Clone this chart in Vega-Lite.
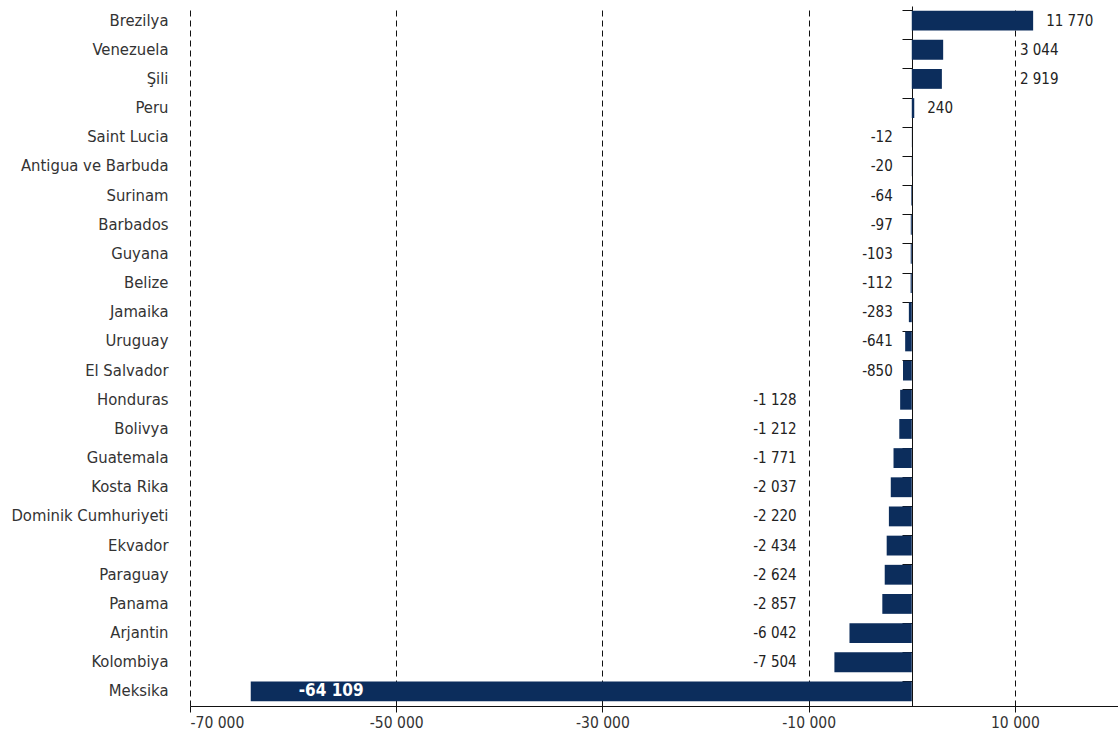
{
  "$schema": "https://vega.github.io/schema/vega-lite/v6.json",
  "autosize": "none",
  "width": 928,
  "height": 700,
  "padding": {"left": 190, "top": 6, "right": 0, "bottom": 39},
  "background": "white",
  "config": {
    "locale": {"number": {"decimal": ",", "thousands": " ", "grouping": [3], "currency": ["", ""], "minus": "-"}},
    "view": {"stroke": null},
    "font": "DejaVu Sans Condensed, Liberation Sans, sans-serif"
  },
  "data": {"values": [
    {"country": "Brezilya", "v": 11770},
    {"country": "Venezuela", "v": 3044},
    {"country": "Şili", "v": 2919},
    {"country": "Peru", "v": 240},
    {"country": "Saint Lucia", "v": -12},
    {"country": "Antigua ve Barbuda", "v": -20},
    {"country": "Surinam", "v": -64},
    {"country": "Barbados", "v": -97},
    {"country": "Guyana", "v": -103},
    {"country": "Belize", "v": -112},
    {"country": "Jamaika", "v": -283},
    {"country": "Uruguay", "v": -641},
    {"country": "El Salvador", "v": -850},
    {"country": "Honduras", "v": -1128},
    {"country": "Bolivya", "v": -1212},
    {"country": "Guatemala", "v": -1771},
    {"country": "Kosta Rika", "v": -2037},
    {"country": "Dominik Cumhuriyeti", "v": -2220},
    {"country": "Ekvador", "v": -2434},
    {"country": "Paraguay", "v": -2624},
    {"country": "Panama", "v": -2857},
    {"country": "Arjantin", "v": -6042},
    {"country": "Kolombiya", "v": -7504},
    {"country": "Meksika", "v": -64109}
  ]},
  "resolve": {"axis": {"y": "independent"}},
  "layer": [
    {
      "mark": {"type": "bar", "color": "#0c2d5c"},
      "encoding": {
        "y": {"field": "country", "type": "nominal", "sort": null,
          "scale": {"paddingInner": 0.32, "paddingOuter": 0.16},
          "axis": {"title": null, "orient": "left", "domain": false, "ticks": false, "labelPadding": 22,
            "labelFontSize": 16.5, "labelColor": "#333333", "labelLimit": 300}},
        "x": {"field": "v", "type": "quantitative",
          "scale": {"domain": [-70000, 20000], "nice": false, "zero": false},
          "axis": {"title": null, "values": [-70000, -50000, -30000, -10000, 10000], "format": ",d",
            "grid": true, "gridDash": [6, 4], "gridColor": "#111111", "gridWidth": 1, "gridOpacity": 1,
            "domainColor": "#111111", "tickColor": "#111111", "tickSize": 6,
            "labelFontSize": 15.5, "labelColor": "#333333", "labelPadding": 3}}
      }
    },
    {
      "mark": {"type": "bar", "opacity": 0},
      "encoding": {
        "y": {"field": "country", "type": "nominal", "sort": null,
          "axis": {"title": null, "orient": "left", "offset": -722, "labels": false, "domain": true,
            "domainColor": "#111111", "ticks": true, "tickColor": "#111111", "tickSize": 10, "bandPosition": 0}},
        "x": {"datum": 0, "type": "quantitative"}
      }
    },
    {
      "transform": [{"filter": "datum.v >= 5000 || (datum.v > 0 && datum.v < 1000)"}],
      "mark": {"type": "text", "align": "left", "dx": 13, "fontSize": 15, "color": "#222222"},
      "encoding": {
        "y": {"field": "country", "type": "nominal", "sort": null, "axis": null},
        "x": {"field": "v", "type": "quantitative"},
        "text": {"field": "v", "type": "quantitative", "format": ",d"}
      }
    },
    {
      "transform": [{"filter": "datum.v >= 1000 && datum.v < 5000"}],
      "mark": {"type": "text", "align": "left", "dx": 5, "fontSize": 15, "color": "#222222"},
      "encoding": {
        "y": {"field": "country", "type": "nominal", "sort": null, "axis": null},
        "x": {"datum": 10000, "type": "quantitative"},
        "text": {"field": "v", "type": "quantitative", "format": ",d"}
      }
    },
    {
      "transform": [{"filter": "datum.v < 0 && datum.v > -1000"}],
      "mark": {"type": "text", "align": "right", "dx": -19, "fontSize": 15, "color": "#222222"},
      "encoding": {
        "y": {"field": "country", "type": "nominal", "sort": null, "axis": null},
        "x": {"datum": 0, "type": "quantitative"},
        "text": {"field": "v", "type": "quantitative", "format": ",d"}
      }
    },
    {
      "transform": [{"filter": "datum.v <= -1000 && datum.v > -10000"}],
      "mark": {"type": "text", "align": "right", "dx": -12, "fontSize": 15, "color": "#222222"},
      "encoding": {
        "y": {"field": "country", "type": "nominal", "sort": null, "axis": null},
        "x": {"datum": -10000, "type": "quantitative"},
        "text": {"field": "v", "type": "quantitative", "format": ",d"}
      }
    },
    {
      "transform": [{"filter": "datum.v <= -10000"}],
      "mark": {"type": "text", "align": "left", "dx": 48, "fontSize": 17, "fontWeight": "bold", "color": "white"},
      "encoding": {
        "y": {"field": "country", "type": "nominal", "sort": null, "axis": null},
        "x": {"field": "v", "type": "quantitative"},
        "text": {"field": "v", "type": "quantitative", "format": ",d"}
      }
    }
  ]
}
